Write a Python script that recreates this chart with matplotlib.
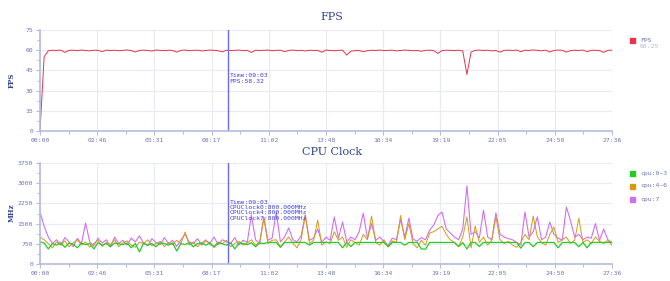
import numpy as np
import matplotlib
matplotlib.use("Agg")
import matplotlib.pyplot as plt
from matplotlib.ticker import MultipleLocator, FixedLocator

# samples taken every 12 seconds over 27:36
sample_seconds = 12
total_seconds = 1656

fps = [0.0, 55.2, 59.6, 60.0, 59.8, 60.1, 58.4, 59.9, 60.0, 59.7,
       60.1, 59.8, 59.5, 60.0, 59.9, 58.9, 60.1, 59.8, 60.0, 59.6,
       59.9, 60.2, 59.7, 58.7, 59.9, 60.0, 59.8, 59.4, 60.1, 59.9,
       59.7, 60.0, 59.8, 58.6, 59.9, 60.1, 59.7, 59.9, 60.0, 59.5,
       59.8, 60.1, 59.9, 59.6, 58.8, 60.0, 59.8, 59.9, 60.1, 59.7,
       59.9, 58.3, 60.0, 59.8, 59.9, 60.1, 59.6, 59.9, 60.0, 58.9,
       59.8, 60.1, 59.7, 59.9, 59.4, 60.0, 59.8, 59.9, 58.5, 60.1,
       59.8, 59.6, 59.9, 60.0, 56.4, 59.3, 59.7, 59.8, 58.9, 59.6,
       60.0, 59.8, 60.1, 59.7, 59.9, 60.0, 59.5, 59.8, 60.1, 59.9,
       59.6, 59.8, 59.2, 59.9, 60.0, 59.7, 57.6, 59.8, 60.0, 59.9,
       59.7, 60.0, 59.4, 42.0, 58.6, 59.9, 60.1, 59.8, 60.0, 59.5,
       59.7, 58.6, 59.9, 60.0, 59.8, 60.1, 58.9, 60.0, 59.8, 60.2,
       59.9, 59.6, 60.0, 58.7, 59.8, 60.1, 59.9, 58.6, 59.7, 60.0,
       59.8, 60.1, 58.9, 59.9, 60.0, 59.7, 58.4, 59.9, 60.0]

cpu0_3 = [820, 780, 560, 760, 700, 790, 620, 780, 740, 600,
          780, 720, 760, 560, 790, 700, 760, 640, 780, 750,
          720, 780, 600, 760, 450, 780, 700, 760, 640, 790,
          760, 700, 780, 480, 760, 720, 790, 640, 760, 780,
          700, 790, 620, 780, 750, 700, 790, 560, 780, 760,
          720, 790, 640, 780, 760, 800, 800, 800, 620, 800,
          800, 800, 800, 800, 800, 700, 800, 800, 800, 800,
          800, 800, 800, 600, 800, 650, 800, 800, 800, 800,
          800, 800, 800, 800, 640, 800, 800, 800, 700, 800,
          800, 800, 560, 550, 800, 800, 800, 800, 800, 800,
          800, 650, 800, 560, 800, 800, 650, 800, 800, 800,
          800, 800, 800, 800, 800, 800, 590, 800, 800, 640,
          800, 800, 800, 800, 800, 600, 800, 800, 800, 800,
          640, 800, 600, 800, 800, 800, 800, 800, 800]

cpu4_6 = [1000, 900, 760, 600, 820, 700, 860, 640, 780, 900,
          700, 820, 620, 760, 880, 650, 800, 720, 900, 640,
          780, 860, 700, 620, 820, 760, 900, 680, 760, 840,
          640, 800, 720, 880, 760, 1190, 700, 820, 640, 780,
          900, 720, 660, 820, 760, 880, 640, 760, 840, 700,
          780, 900, 700, 820, 1700, 760, 880, 900, 640, 820,
          1000, 780, 600, 900, 1820, 760, 880, 1630, 700, 820,
          760, 1200, 880, 1000, 620, 900, 800, 700, 1100, 900,
          1780, 800, 700, 900, 640, 860, 800, 1800, 900, 1500,
          760, 600, 880, 700, 1150, 1200, 1300, 1400, 1100, 900,
          800, 640, 1000, 1750, 600, 1410, 800, 1000, 700, 880,
          1750, 900, 760, 840, 700, 620, 800, 1100, 900, 1780,
          1000, 800, 700, 1100, 1375, 800, 900, 1000, 760, 880,
          1700, 800, 900, 760, 1000, 840, 760, 880, 700]

cpu7 = [1930, 1400, 1000, 760, 900, 700, 980, 820, 640, 950,
        760, 1520, 820, 680, 960, 780, 900, 640, 1000, 760,
        880, 700, 960, 820, 1050, 760, 680, 940, 800, 720,
        980, 760, 880, 650, 900, 1100, 820, 760, 940, 700,
        860, 780, 1000, 720, 900, 820, 760, 980, 700, 880,
        800, 1820, 900, 760, 1745, 880, 960, 1930, 820, 1000,
        1340, 900, 820, 1050, 1820, 880, 960, 1300, 800, 1000,
        880, 1745, 960, 1560, 820, 1000, 900, 1200, 1890, 940,
        1500, 880, 1000, 820, 700, 960, 900, 1650, 1000, 1700,
        920, 850, 980, 900, 1250, 1450, 1800, 1930, 1300, 1150,
        1000, 900, 1300, 2900, 1100, 1200, 960, 2000, 1000, 900,
        1900, 1100, 1000, 940, 900, 800, 700, 1930, 1000, 1200,
        1750, 900, 1000, 1560, 1100, 960, 880, 2120, 1600, 1000,
        1100, 900, 1000, 960, 1500, 880, 1300, 900, 800]

tick_labels = ['00:00', '02:46', '05:31', '08:17', '11:02', '13:48',
               '16:34', '19:19', '22:05', '24:50', '27:36']
cursor_seconds = 543

times = np.arange(len(fps)) * sample_seconds

text_col = '#6b76b8'
title_col = '#34448f'
grid_col = '#e8eaf8'
spine_col = '#b4bcdf'
mono = 'DejaVu Sans Mono'

fig = plt.figure(figsize=(6.7, 2.81), dpi=100)
ax1 = fig.add_axes([0.0597, 0.5338, 0.8537, 0.3594])
ax2 = fig.add_axes([0.0597, 0.0605, 0.8537, 0.3594])

major = [total_seconds * i / 10 for i in range(11)]
minor = [total_seconds * (i + 0.5) / 10 for i in range(10)]


def style_axes(ax, ymax, ystep):
    ax.set_xlim(0, total_seconds)
    ax.set_ylim(0, ymax)
    ax.xaxis.set_major_locator(FixedLocator(major))
    ax.xaxis.set_minor_locator(FixedLocator(minor))
    ax.set_xticklabels(tick_labels)
    ax.yaxis.set_major_locator(MultipleLocator(ystep))
    ax.yaxis.set_minor_locator(MultipleLocator(ystep / 2))
    ax.grid(True, which='major', color=grid_col, linewidth=0.8)
    ax.set_axisbelow(True)
    for s in ['top', 'right']:
        ax.spines[s].set_visible(False)
    for s in ['left', 'bottom']:
        ax.spines[s].set_color(spine_col)
        ax.spines[s].set_linewidth(1.2)
    ax.tick_params(which='both', colors=spine_col, labelcolor=text_col,
                   labelsize=4.6, length=3, width=0.8, pad=2)
    ax.tick_params(which='minor', length=2)
    for lab in ax.get_xticklabels() + ax.get_yticklabels():
        lab.set_family(mono)


# FPS panel
ax1.plot(times, fps, color='#e8334a', linewidth=0.7)
style_axes(ax1, 75, 15)
ax1.axvline(cursor_seconds, color='#6a6af5', linewidth=1)
ax1.text(cursor_seconds + 6, 39, 'Time:09:03\nFPS:58.32', fontsize=4.6,
         color='#3f3fe0', family=mono, va='center', linespacing=1.1)

# CPU panel
ax2.plot(times, cpu7, color='#d070f0', linewidth=0.8, label='cpu:7')
ax2.plot(times, cpu4_6, color='#d69a12', linewidth=0.7, label='cpu:4~6')
ax2.plot(times, cpu0_3, color='#22cc22', linewidth=0.9, label='cpu:0~3')
style_axes(ax2, 3750, 750)
ax2.axvline(cursor_seconds, color='#6a6af5', linewidth=1)
ax2.text(cursor_seconds + 6, 2000,
         'Time:09:03\nCPUClock0:800.000MHz\nCPUClock4:800.000MHz\nCPUClock7:800.000MHz',
         fontsize=4.6, color='#3f3fe0', family=mono, va='center', linespacing=1.1)

# y axis names
fig.text(12 / 670, 1 - 80 / 281, 'FPS', rotation=90, ha='center', va='center',
         fontsize=5, color=title_col, fontweight='bold', family='DejaVu Serif')
fig.text(12 / 670, 1 - 213 / 281, 'MHz', rotation=90, ha='center', va='center',
         fontsize=5, color=title_col, fontweight='bold', family='DejaVu Serif')

# titles
fig.text(0.495, 1 - 17 / 281, 'FPS', ha='center', va='center', fontsize=8,
         color=title_col, family='DejaVu Serif')
fig.text(0.495, 1 - 152 / 281, 'CPU Clock', ha='center', va='center', fontsize=8,
         color=title_col, family='DejaVu Serif')


# legends drawn as small squares with labels
def legend_item(y_px, color, label):
    fig.patches.append(plt.Rectangle((630 / 670, 1 - (y_px + 3) / 281), 5 / 670, 5 / 281,
                                     transform=fig.transFigure, color=color))
    fig.text(640 / 670, 1 - y_px / 281, label, fontsize=4.6, color=text_col,
             family=mono, va='center')


legend_item(40, '#e8334a', 'FPS')
fig.text(640 / 670, 1 - 47 / 281, '60.25', fontsize=4.6, color='#b0b8e0',
         family=mono, va='center')
legend_item(173, '#22cc22', 'cpu:0~3')
legend_item(186, '#d69a12', 'cpu:4~6')
legend_item(199, '#d070f0', 'cpu:7')

fig.savefig('out.png', dpi=100)
